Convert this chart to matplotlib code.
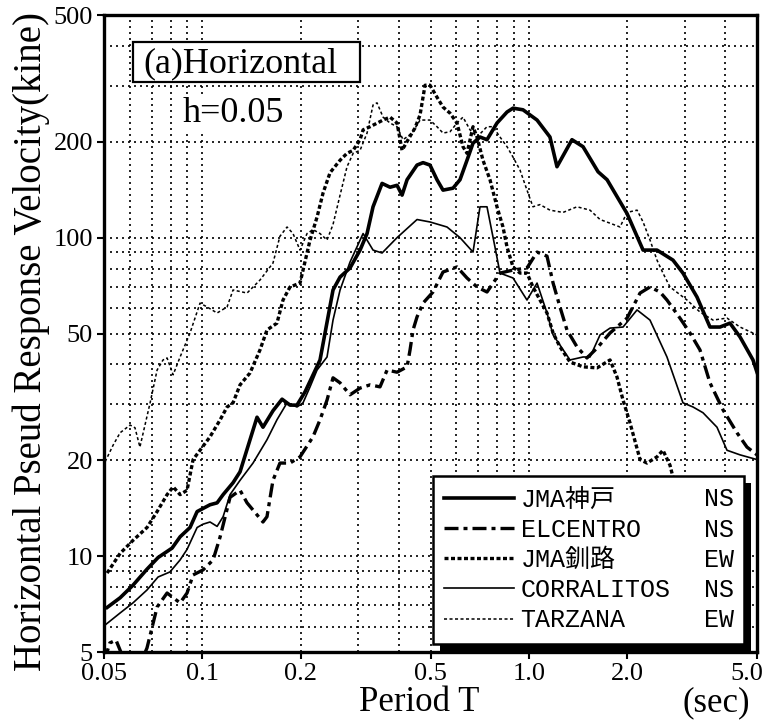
import matplotlib
matplotlib.use("Agg")
import matplotlib.pyplot as plt
import matplotlib.patheffects as pe
import matplotlib.transforms as mtransforms
from matplotlib.patches import Rectangle
from matplotlib.ticker import LogLocator, NullFormatter

plt.rcParams['font.family'] = ['Liberation Serif', 'DejaVu Serif']

# period (sec) and pseudo velocity (kine)
kobe_T = [0.0511, 0.056, 0.0613, 0.0677, 0.0732, 0.0808, 0.0855, 0.0917, 0.0964, 0.1056, 0.111, 0.1158,
          0.1242, 0.1305, 0.14, 0.1471, 0.1534, 0.1646, 0.1755, 0.1856, 0.195, 0.2064, 0.2168, 0.2294,
          0.2514, 0.2642, 0.2834, 0.3042, 0.3196, 0.3334, 0.3553, 0.3759, 0.3949, 0.4091, 0.4238, 0.4547,
          0.4744, 0.4982, 0.5234, 0.5461, 0.586, 0.6156, 0.6468, 0.6748, 0.7089, 0.7447, 0.7991, 0.8578,
          0.8948, 0.96, 1.06, 1.161, 1.22, 1.356, 1.466, 1.63, 1.737, 2.0, 2.239, 2.47, 2.765, 2.966,
          3.275, 3.589, 3.852, 4.133, 4.435, 4.861, 5.0]
kobe_V = [6.9, 7.4, 8.1, 9.1, 9.9, 10.6, 11.5, 12.3, 13.8, 14.5, 14.7, 15.6, 17.0, 18.4, 23.2, 27.3, 25.4,
          28.6, 31.1, 29.8, 29.8, 32.8, 36.5, 41.3, 68.5, 75.2, 80.3, 91.4, 103, 125, 148, 144, 146, 136,
          152, 169, 172, 169, 152, 141, 143, 152, 175, 198, 207, 203, 229, 248, 255, 252, 234, 207, 167,
          203, 193, 161, 152, 119, 91.4, 91.4, 85, 77.4, 65.1, 52.4, 52.4, 53.9, 48.8, 41.3, 37.8]

elc_T = [0.05, 0.0521, 0.0544, 0.0568, 0.0601, 0.0644, 0.0677, 0.0727, 0.078, 0.0855, 0.0898, 0.0937,
         0.1005, 0.1079, 0.1134, 0.1216, 0.1305, 0.1371, 0.1534, 0.1578, 0.1646, 0.1729, 0.1856, 0.1992,
         0.2183, 0.2294, 0.241, 0.2514, 0.2642, 0.2834, 0.3042, 0.3265, 0.3502, 0.3681, 0.3949, 0.4238,
         0.4328, 0.4421, 0.4547, 0.4744, 0.5089, 0.5461, 0.6027, 0.6468, 0.6941, 0.7447, 0.8162, 0.8948,
         0.9874, 1.06, 1.137, 1.187, 1.246, 1.309, 1.405, 1.507, 1.618, 1.774, 2.0, 2.192, 2.351, 2.523,
         2.65, 2.904, 3.117, 3.345, 3.589, 3.934, 4.342, 4.659, 5.0]
elc_V = [4.66, 5.34, 5.45, 4.89, 4.39, 4.55, 5.15, 6.92, 7.66, 7.13, 7.66, 8.73, 9.05, 9.73, 11.5, 15.3,
         16.1, 14.7, 12.8, 13.3, 17.3, 19.6, 19.6, 20.5, 23.7, 26.8, 30.9, 36.3, 35.0, 32.1, 33.7, 34.5,
         34.0, 38.4, 37.8, 39.3, 44.4, 51.3, 56.4, 62.3, 67.5, 78.0, 80.9, 74.7, 70.0, 67.5, 77.4, 79.1,
         80.3, 90.1, 87.5, 72.0, 60.6, 51.3, 45.4, 41.9, 45.0, 50.2, 55.9, 67.0, 70.0, 67.5, 63.7, 55.9,
         50.2, 44.4, 35.0, 28.8, 24.4, 22.0, 20.8]

kushiro_T = [0.0511, 0.056, 0.0613, 0.0677, 0.0727, 0.078, 0.0814, 0.0855, 0.0898, 0.0937, 0.0984, 0.1056,
             0.1134, 0.1191, 0.1242, 0.1305, 0.14, 0.1502, 0.1578, 0.1693, 0.1767, 0.1856, 0.1992, 0.2035,
             0.2138, 0.2246, 0.2343, 0.2462, 0.2642, 0.2775, 0.2898, 0.3042, 0.3108, 0.3265, 0.3578, 0.3759,
             0.3949, 0.4091, 0.4268, 0.4483, 0.4645, 0.4811, 0.4982, 0.5234, 0.5461, 0.5737, 0.6027, 0.6287,
             0.6468, 0.6748, 0.6941, 0.724, 0.7606, 0.7991, 0.8336, 0.8578, 0.8948, 0.9399, 0.9874, 1.03,
             1.137, 1.187, 1.246, 1.337, 1.466, 1.618, 1.774, 1.863, 1.944, 2.042, 2.192, 2.302, 2.47,
             2.576, 2.707, 2.765, 2.99]
kushiro_V = [8.85, 10.2, 11.2, 12.3, 13.8, 15.6, 16.5, 15.6, 16.1, 20.1, 21.5, 23.7, 26.8, 29.4, 30.3, 34.5,
             37.6, 44.4, 51.3, 53.9, 63.7, 70.0, 72.0, 79.1, 98.3, 116, 138, 160, 175, 184, 188, 203, 218,
             223, 234, 239, 229, 188, 203, 221, 243, 301, 301, 276, 257, 246, 229, 193, 184, 223, 207, 175,
             152, 125, 108, 93.4, 80.9, 77.4, 77.4, 70.0, 58.0, 50.2, 45.4, 40.7, 39.3, 39.0, 41.3, 36.5,
             30.9, 26.2, 20.1, 19.6, 20.5, 21.5, 19.3, 17.7, 15.0]

corr_T = [0.0504, 0.056, 0.0613, 0.0677, 0.0732, 0.0796, 0.0855, 0.0898, 0.0964, 0.1005, 0.1056, 0.111,
          0.1158, 0.1216, 0.1305, 0.143, 0.1578, 0.1693, 0.1818, 0.195, 0.2035, 0.2138, 0.2246, 0.241,
          0.2514, 0.2642, 0.2834, 0.3108, 0.3334, 0.3553, 0.3949, 0.4547, 0.4982, 0.5617, 0.6156, 0.6748,
          0.7089, 0.7447, 0.7879, 0.8162, 0.8948, 0.9874, 1.06, 1.137, 1.187, 1.246, 1.337, 1.466, 1.54,
          1.653, 1.774, 1.944, 2.146, 2.351, 2.65, 2.966, 3.184, 3.417, 3.771, 4.047, 4.435, 5.0]
corr_V = [6.08, 6.63, 7.13, 7.83, 8.6, 8.92, 9.73, 10.5, 12.3, 12.6, 12.8, 12.4, 13.3, 15.6, 17.3, 19.6,
          23.2, 26.8, 30.3, 29.4, 30.3, 34.0, 38.4, 42.2, 55.1, 68.5, 83.8, 103, 91.4, 89.5, 100, 114, 112,
          108, 100, 90.1, 125, 125, 93.4, 77.4, 74.7, 63.7, 72.0, 58.0, 49.5, 46.0, 41.3, 42.2, 42.2, 49.5,
          52.0, 52.4, 59.3, 55.1, 42.2, 30.3, 29.4, 28.2, 25.4, 21.5, 20.8, 20.1]

tarz_T = [0.0504, 0.0533, 0.056, 0.0601, 0.0622, 0.0644, 0.0692, 0.0727, 0.0758, 0.078, 0.0814, 0.0855,
          0.0917, 0.0984, 0.1034, 0.111, 0.1191, 0.1242, 0.1371, 0.1502, 0.1646, 0.1729, 0.1818, 0.1896,
          0.1992, 0.2093, 0.2183, 0.2294, 0.241, 0.2514, 0.2642, 0.2775, 0.2898, 0.3042, 0.3196, 0.3334,
          0.3429, 0.3578, 0.3759, 0.3949, 0.412, 0.439, 0.4645, 0.4982, 0.5234, 0.5461, 0.5737, 0.6027,
          0.6287, 0.6607, 0.6941, 0.7447, 0.7769, 0.8162, 0.8578, 0.8948, 0.9399, 0.9874, 1.03, 1.082,
          1.161, 1.273, 1.405, 1.54, 1.653, 1.774, 1.903, 2.0, 2.146, 2.239, 2.351, 2.47, 2.576, 2.707,
          3.052, 3.345, 3.666, 4.047, 4.435, 5.0]
tarz_V = [19.8, 22.3, 24.4, 25.8, 25.3, 22.0, 30.3, 38.4, 41.3, 41.9, 37.1, 42.2, 50.2, 62.3, 60.6, 58.0,
          60.6, 68.5, 67.0, 73.6, 83.2, 101, 108, 103, 91.4, 103, 106, 103, 98.3, 110, 136, 167, 184, 188,
          213, 261, 265, 239, 229, 223, 203, 213, 234, 234, 223, 213, 215, 229, 239, 218, 207, 223, 223,
          207, 193, 179, 163, 141, 125, 127, 122, 120, 125, 122, 114, 111, 108, 120, 122, 112, 98.3, 85.0,
          77.4, 70.0, 63.7, 58.4, 55.1, 55.9, 52.4, 49.5]

names = ['JMA神戸', 'ELCENTRO', 'JMA釧路', 'CORRALITOS', 'TARZANA']
comps = ['NS', 'NS', 'EW', 'NS', 'EW']

xticks = [0.05, 0.1, 0.2, 0.5, 1.0, 2.0, 5.0]
xticklabels = ['0.05', '0.1', '0.2', '0.5', '1.0', '2.0', '5.0']
yticks = [5, 10, 20, 50, 100, 200, 500]
yticklabels = ['5', '10', '20', '50', '100', '200', '500']

fig = plt.figure(figsize=(7.7, 7.26), dpi=100)
ax = fig.add_axes([0.1351, 0.1019, 0.848, 0.8774])
ax.set_xscale('log')
ax.set_yscale('log')
ax.set_xlim(0.05, 5.0)
ax.set_ylim(5, 500)

ax.plot(kobe_T, kobe_V, color='black', lw=2.6, label=names[0], zorder=3)
ax.plot(elc_T, elc_V, color='black', lw=2.4, dashes=(4.2, 1.5, 1.2, 1.5), label=names[1], zorder=3)
ax.plot(kushiro_T, kushiro_V, color='black', lw=2.4, dashes=(1.2, 0.75), label=names[2], zorder=3)
ax.plot(corr_T, corr_V, color='black', lw=1.2, label=names[3], zorder=3)
ax.plot(tarz_T, tarz_V, color='black', lw=1.1, dashes=(2.0, 1.6), label=names[4], zorder=3)

# grid on every log tick
ax.xaxis.set_minor_locator(LogLocator(base=10, subs=range(2, 10)))
ax.yaxis.set_minor_locator(LogLocator(base=10, subs=range(2, 10)))
ax.xaxis.set_minor_formatter(NullFormatter())
ax.yaxis.set_minor_formatter(NullFormatter())
ax.set_xticks(xticks)
ax.set_xticklabels(xticklabels)
ax.set_yticks(yticks)
ax.set_yticklabels(yticklabels)
ax.grid(True, which='both', color='black', linestyle=(0, (1.2, 2.4)), linewidth=1.2, zorder=1)
ax.set_axisbelow(True)
ax.tick_params(which='major', direction='out', length=5, width=1.5, labelsize=19, pad=3)
ax.tick_params(which='minor', length=0)
for s in ax.spines.values():
    s.set_linewidth(2.4)

# last x label sits left of the corner
lab = ax.get_xticklabels()[-1]
lab.set_horizontalalignment('right')
lab.set_transform(lab.get_transform() + mtransforms.ScaledTranslation(6 / 100, 0, fig.dpi_scale_trans))

fig.text(0.040, 0.530, 'Horizontal Pseud Response Velocity(kine)', fontsize=28, rotation=90,
         ha='center', va='center')
fig.text(0.545, 0.032, 'Period T', fontsize=25, ha='center', va='center')
fig.text(0.930, 0.032, '(sec)', fontsize=25, ha='center', va='center')

# title box
ax.add_patch(Rectangle((0.0444, 0.8948), 0.3477, 0.0628, transform=ax.transAxes,
                       facecolor='white', edgecolor='black', lw=1.6, zorder=4))
ax.text(0.0597, 0.9105, '(a)Horizontal', transform=ax.transAxes, fontsize=26,
        va='baseline', ha='left', zorder=5)
ax.text(0.121, 0.832, 'h=0.05', transform=ax.transAxes, fontsize=26, va='baseline', ha='left',
        zorder=5, bbox=dict(boxstyle='square,pad=0.05', fc='white', ec='none'))

leg = ax.legend(loc='lower left', bbox_to_anchor=(0.504, 0.013, 0.476, 0.26), mode='expand',
                borderaxespad=0, fancybox=False, framealpha=1, edgecolor='black',
                prop={'family': ['Liberation Mono', 'Noto Sans CJK JP'], 'size': 18},
                handlelength=2.8, handletextpad=0.25, labelspacing=0.25, borderpad=0.45)
leg.get_frame().set_linewidth(1.8)
leg.get_frame().set_path_effects([pe.SimplePatchShadow(offset=(5, -5), shadow_rgbFace='black', alpha=1),
                                  pe.Normal()])

fig.canvas.draw()
W, H = fig.canvas.get_width_height()
xr = 734 / W
for t, c in zip(leg.get_texts(), comps):
    x0, y0 = t.get_transform().transform(t.get_position())
    fig.text(xr, y0 / H, c, ha='right', va='baseline',
             fontfamily='Liberation Mono', fontsize=18, zorder=10)

fig.savefig('out.png', dpi=100)
